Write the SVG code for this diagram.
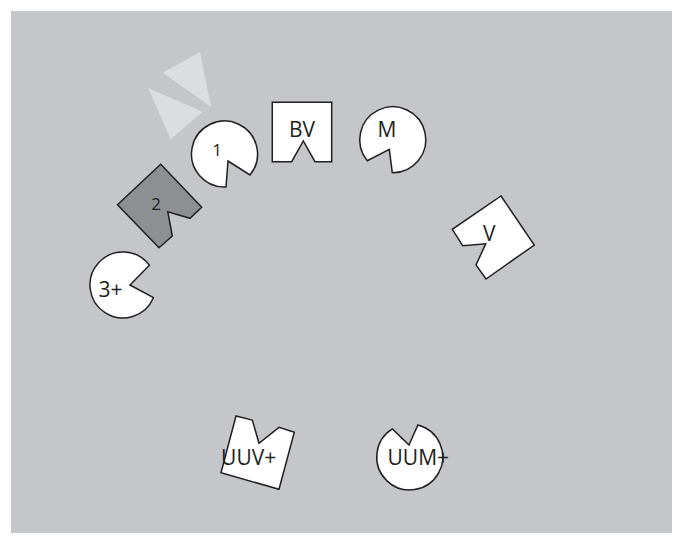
<svg xmlns="http://www.w3.org/2000/svg" width="678" height="544" viewBox="0 0 678 544">
<style>
.n{fill:#fff;stroke:#231f20;stroke-width:1.5;stroke-linejoin:miter}
.d{fill:#8e8f92;stroke:#231f20;stroke-width:1.5}
.t{fill:#dcdde0;stroke:none}
text{font-family:"Open Sans","DejaVu Sans",sans-serif;fill:#231f20;text-anchor:middle}
.b{font-size:21px}
.s{font-size:17px}
</style>
<rect x="0" y="0" width="678" height="544" fill="#fff"/>
<rect x="11" y="11" width="661" height="522" fill="#c5c6c9"/>
<g id="decor">
<polygon class="t" points="162.7,72.7 200,52.3 211,106.7"/>
<polygon class="t" points="148.3,88.3 202.7,111.7 170.7,139.3"/>
</g>
<g id="connectors"></g>
<g id="n1">
<path class="n" d="M228 161 L250 175 A33 33 0 1 0 226 187 Z"/>
<text class="s" x="217" y="156">1</text>
</g>
<g id="nBV">
<path class="n" d="M272.3 102.3 H331.7 V161.7 H315 L303.3 141 L291.7 161.7 H272.3 Z"/>
<text class="b" x="302" y="137">BV</text>
</g>
<g id="nM">
<path class="n" d="M389.3 149.3 L392.3 172.7 A33 33 0 1 0 367.3 160.7 Z"/>
<text class="b" x="387" y="137">M</text>
</g>
<g id="n2">
<path class="d" d="M160.7 164.3 L201.7 207.3 L190 218.3 L167.8 211.7 L172.3 236 L159 247.7 L117.5 204.7 Z"/>
<text class="s" x="156" y="209.5">2</text>
</g>
<g id="n3">
<path class="n" d="M130 285 L153.4 297.7 A33 33 0 1 1 149.4 265.2 Z"/>
<text class="b" x="110.5" y="297">3+</text>
</g>
<g id="nV">
<path class="n" d="M501 196 L534.3 245 L486 279 L476 265 L485.7 243.8 L462.7 245.7 L452.3 229.3 Z"/>
<text class="b" x="489.3" y="241">V</text>
</g>
<g id="nUUV">
<path class="n" d="M236 416 L252.3 420 L259 443.3 L279 427.3 L294.3 432.3 L279 489.3 L221 472.7 Z"/>
<text class="b" x="248.7" y="465">UUV+</text>
</g>
<g id="nUUM">
<path class="n" d="M409 445 L417.9 425 A33 33 0 1 1 392.4 428.9 Z"/>
<text class="b" x="418.3" y="465">UUM+</text>
</g>
</svg>
